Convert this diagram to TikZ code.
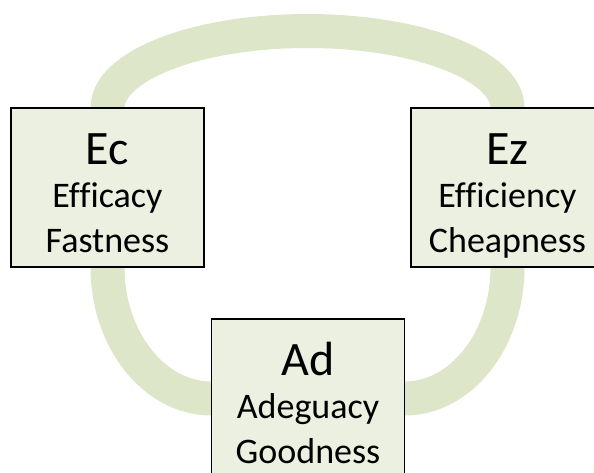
\documentclass[tikz,border=0pt]{standalone}
\usepackage{fontspec}
\setmainfont{Carlito}[Ligatures=CommonOff]
\usetikzlibrary{backgrounds}
\definecolor{band}{RGB}{221,230,200}
\definecolor{boxfill}{RGB}{235,240,225}
\begin{document}
\begin{tikzpicture}[x=1pt,y=1pt,
  card/.style={draw=black, line width=1.4pt, fill=boxfill,
    minimum width=193pt, minimum height=159pt, inner sep=0pt, outer sep=0pt},
  link/.style={draw=band, line width=34pt},
  title/.style={anchor=base, font=\fontsize{48}{56}\selectfont, inner sep=0pt},
  sub/.style={anchor=base, font=\fontsize{36}{44}\selectfont, inner sep=0pt}]
\useasboundingbox (0,0) rectangle (594,-472);
\clip (0,0) rectangle (594,-472);

% the three boxes
\node[card] (Ec) at (107.5,-187.5) {};
\node[card] (Ez) at (507.5,-187.5) {};
\node[card] (Ad) at (308,-398.5) {};

% their labels
\node[title] (EcT) at ([yshift=-56pt]Ec.north) {Ec};
\node[sub]   (EcA) at ([yshift=-99pt]Ec.north) {Efficacy};
\node[sub]   (EcB) at ([yshift=-144pt]Ec.north) {Fastness};

\node[title] (EzT) at ([yshift=-56pt]Ez.north) {Ez};
\node[sub]   (EzA) at ([yshift=-99pt]Ez.north) {Efficiency};
\node[sub]   (EzB) at ([yshift=-144pt]Ez.north) {Cheapness};

\node[title] (AdT) at ([yshift=-56pt]Ad.north) {Ad};
\node[sub]   (AdA) at ([yshift=-99pt]Ad.north) {Adeguacy};
\node[sub]   (AdB) at ([yshift=-144pt]Ad.north) {Goodness};

% the connecting bands, behind the boxes
\begin{scope}[on background layer]
  \draw[link] (Ec.north) arc[start angle=180, end angle=0, x radius=200, y radius=77];
  \draw[link] (Ec.south) arc[start angle=180, end angle=270, x radius=104, y radius=131.5];
  \draw[link] (Ez.south) arc[start angle=0, end angle=-90, x radius=103, y radius=131.5];
\end{scope}
\end{tikzpicture}
\end{document}
